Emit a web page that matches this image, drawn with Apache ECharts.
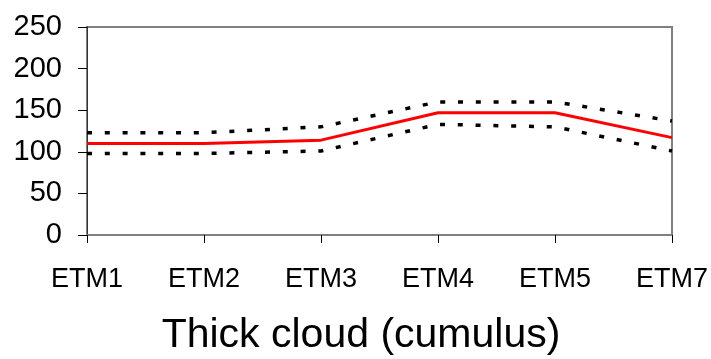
<!DOCTYPE html>
<html>
<head>
<meta charset="utf-8">
<script src="https://cdn.jsdelivr.net/npm/echarts@6/dist/echarts.min.js"></script>
<style>
  html, body { margin: 0; padding: 0; background: #fff; }
  #chart { width: 711px; height: 359px; }
</style>
</head>
<body>
<div id="chart"></div>
<script>
// Band categories and values
var categories = ['ETM1', 'ETM2', 'ETM3', 'ETM4', 'ETM5', 'ETM7'];
var meanValues = [110, 110, 114, 147, 147, 117];
var upperValues = [123, 123, 130, 160, 160, 137];
var lowerValues = [98, 98, 101, 133, 130, 101];
var yTicks = [0, 50, 100, 150, 200, 250];
var chartTitle = 'Thick cloud (cumulus)';

var chart = echarts.init(document.getElementById('chart'));

var dottedStyle = {
  color: '#000',
  width: 3.5,
  type: [5, 12.8],
  cap: 'butt'
};

chart.setOption({
  animation: false,
  backgroundColor: '#fff',
  title: {
    text: chartTitle,
    left: 356,
    textAlign: 'center',
    top: 310,
    textStyle: {
      fontFamily: 'Liberation Sans, Arial, sans-serif',
      fontSize: 41,
      fontWeight: 'normal',
      color: '#000'
    }
  },
  grid: {
    left: 87,
    right: 39,
    top: 27,
    bottom: 124,
    outerBoundsMode: 'none',
    containLabel: false,
    show: true,
    borderColor: '#808080',
    borderWidth: 2,
    backgroundColor: '#fff'
  },
  xAxis: {
    type: 'category',
    data: categories,
    boundaryGap: false,
    axisLine: { lineStyle: { color: '#808080', width: 2 } },
    axisTick: { show: true, length: 8, alignWithLabel: true, lineStyle: { color: '#000', width: 1 } },
    axisLabel: {
      margin: 31,
      hideOverlap: false,
      fontFamily: 'Liberation Sans, Arial, sans-serif',
      fontSize: 27,
      color: '#000'
    },
    splitLine: { show: false }
  },
  yAxis: {
    type: 'value',
    min: yTicks[0],
    max: yTicks[yTicks.length - 1],
    interval: 50,
    axisLine: { show: true, lineStyle: { color: '#333', width: 1 } },
    axisTick: { show: true, length: 9, lineStyle: { color: '#000', width: 1 } },
    axisLabel: {
      margin: 25,
      fontFamily: 'Liberation Sans, Arial, sans-serif',
      fontSize: 29,
      color: '#000'
    },
    splitLine: { show: false }
  },
  series: [
    {
      name: 'upper',
      type: 'line',
      data: upperValues,
      symbol: 'none',
      lineStyle: dottedStyle
    },
    {
      name: 'lower',
      type: 'line',
      data: lowerValues,
      symbol: 'none',
      lineStyle: dottedStyle
    },
    {
      name: 'mean',
      type: 'line',
      data: meanValues,
      symbol: 'none',
      lineStyle: { color: '#ff0000', width: 3 }
    }
  ]
});
</script>
</body>
</html>
